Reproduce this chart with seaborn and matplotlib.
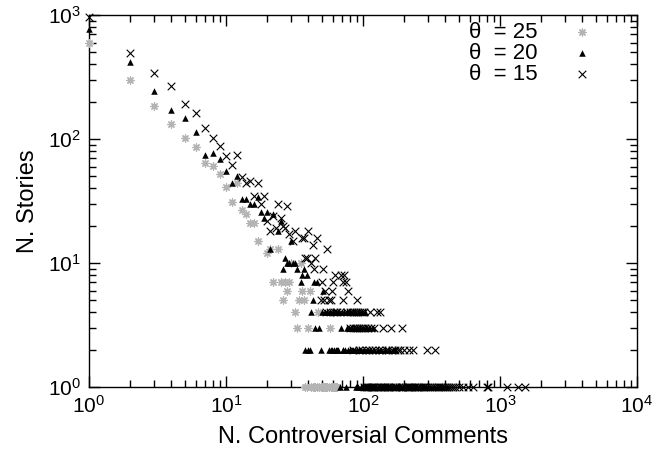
import numpy as np
import pandas as pd
import seaborn as sns
import matplotlib
matplotlib.use('Agg')
import matplotlib.pyplot as plt
from matplotlib.ticker import LogLocator, NullFormatter

# theta = 25 (grey asterisks): head of the distribution, then x values per count row
head25_x = [1, 2, 3, 4, 5, 6, 7, 8, 9, 10, 11, 12, 13, 14, 15, 16, 17, 20, 21, 22, 24, 25, 26,
            27, 28, 29, 30, 34, 35, 36, 37, 41]
head25_y = [600, 300, 185, 131, 102, 86, 64, 61, 52, 41, 31, 44, 27, 25, 21, 21, 15, 12, 13, 7, 13, 7, 5,
            7, 6, 7, 10, 5, 10, 6, 5, 6]
rows25 = {4: [32, 47],
          3: [33, 40, 57],
          1: [38, 39, 42, 43, 44, 45, 46, 48, 49, 50, 51, 52, 53, 54, 55, 56, 58, 59, 60, 61, 62, 63, 64, 65]}

# theta = 20 (black triangles)
head20_x = [1, 2, 3, 4, 5, 6, 7, 8, 9, 10, 11, 12, 13, 14, 15, 16, 17, 18, 19, 20, 21, 22, 24, 25,
            26, 27, 28, 29, 30, 31, 32, 33, 35, 36, 37, 39, 44, 46]
head20_y = [770, 417, 244, 171, 147, 113, 74, 77, 69, 55, 44, 50, 33, 33, 30, 30, 34, 26, 23, 26, 13, 25, 18, 22,
            9, 11, 10, 10, 15, 10, 10, 9, 7, 8, 9, 8, 7, 7]
rows20 = {6: [51],
          5: [43],
          4: [42, 50, 53, 55, 57, 60, 62, 64, 67, 70, 73, 76, 80, 84, 88, 93, 98, 103],
          3: [45, 48, 69, 77, 79, 82, 86, 90, 95, 100, 105, 110, 118],
          2: [38, 40, 41, 49, 56, 58, 59, 61, 63, 65, 66, 71, 72, 74, 78, 81, 83, 85, 87, 91, 94, 97,
              101, 107, 113, 120, 128, 136, 145, 155, 165, 171],
          1: [68, 75, 89, 92, 96, 99, 102, 104, 106, 108, 111, 114, 116, 119, 122, 125, 130, 133, 139,
              142, 148, 152, 158, 162, 168, 175, 182, 190, 198, 206, 215, 225, 236, 248, 260, 275, 290,
              310, 330, 355, 380, 410]}

# theta = 15 (black crosses)
head15_x = [1, 2, 3, 4, 5, 6, 7, 8, 9, 10, 11, 12, 13, 14, 15, 16, 17, 18, 19, 20, 21, 22, 23, 24,
            25, 26, 27, 28, 29, 31, 32, 36, 37, 38, 39, 40, 42, 43, 44, 45, 46, 51, 55]
head15_y = [960, 490, 340, 266, 192, 162, 122, 102, 88, 73, 62, 74, 49, 44, 46, 35, 44, 30, 35, 22, 18, 24, 19, 30,
            23, 20, 19, 29, 17, 15, 18, 16, 16, 11, 11, 18, 10, 14, 9, 11, 16, 9, 13]
rows15 = {8: [62, 69, 73],
          7: [50, 60, 71, 75],
          6: [53, 59, 78],
          5: [49, 52, 56, 58, 72, 90],
          4: [54, 57, 61, 63, 65, 68, 76, 80, 83, 86, 89, 92, 95, 98, 101, 112, 127, 133],
          3: [81, 84, 87, 91, 94, 97, 100, 104, 108, 115, 120, 140, 160, 193],
          2: [85, 93, 99, 106, 110, 117, 123, 130, 138, 146, 153, 162, 170, 180, 186, 200, 215, 232, 293, 336],
          1: [102, 105, 107, 109, 111, 114, 116, 118, 121, 125, 128, 132, 136, 139, 142, 145, 149, 152,
              156, 161, 166, 171, 175, 184, 188, 192, 197, 204, 208, 212, 217, 222, 228, 234, 240, 246,
              252, 258, 265, 272, 280, 290, 300, 309, 318, 328, 340, 350, 360, 372, 385, 397, 410, 425,
              440, 455, 470, 505, 540, 580, 636, 800, 815, 1120, 1350, 1520]}

labels = ['\u03b8  = 25', '\u03b8  = 20', '\u03b8  = 15']


def build(head_x, head_y, rows):
    xs = list(head_x)
    ys = list(head_y)
    for count, vals in rows.items():
        xs += vals
        ys += [count] * len(vals)
    return pd.DataFrame({'comments': xs, 'stories': ys})


df25 = build(head25_x, head25_y, rows25)
df20 = build(head20_x, head20_y, rows20)
df15 = build(head15_x, head15_y, rows15)

sns.set_style('ticks')
plt.rcParams['font.family'] = ['Liberation Sans', 'DejaVu Sans']
plt.rcParams['mathtext.fontset'] = 'custom'
plt.rcParams['mathtext.rm'] = 'Liberation Sans'
plt.rcParams['mathtext.it'] = 'Liberation Sans:italic'
plt.rcParams['text.color'] = 'black'
plt.rcParams['axes.labelcolor'] = 'black'
plt.rcParams['axes.edgecolor'] = 'black'

fig = plt.figure(figsize=(6.55, 4.59), dpi=100)
ax = fig.add_axes([89 / 655, 1 - 387 / 459, (637 - 89) / 655, (387 - 15) / 459])

sns.scatterplot(data=df25, x='comments', y='stories', marker=(8, 2, 0), color='#b4b4b4',
                s=28, linewidth=0.9, label=labels[0], ax=ax, clip_on=False, zorder=3)
sns.scatterplot(data=df20, x='comments', y='stories', marker='^', color='black',
                s=22, linewidth=0, label=labels[1], ax=ax, clip_on=False, zorder=3)
sns.scatterplot(data=df15, x='comments', y='stories', marker='x', color='black',
                s=30, linewidth=0.8, label=labels[2], ax=ax, clip_on=False, zorder=3)

ax.set_xscale('log')
ax.set_yscale('log')
ax.set_xlim(1, 1e4)
ax.set_ylim(1, 1e3)
for axis in (ax.xaxis, ax.yaxis):
    axis.set_minor_locator(LogLocator(base=10.0, subs=(2, 3, 4, 5, 6, 7, 8, 9), numticks=20))
    axis.set_minor_formatter(NullFormatter())
ax.set_xlabel('N. Controversial Comments', fontsize=17, labelpad=6)
ax.set_ylabel('N. Stories', fontsize=17, labelpad=6)
ax.tick_params(which='major', direction='in', length=8, width=1.0, pad=6, labelsize=15,
               color='black', labelcolor='black', top=True, right=True)
ax.tick_params(which='minor', direction='in', length=5, width=1.0, color='black',
               top=True, right=True)
for sp in ax.spines.values():
    sp.set_linewidth(1.0)

ax.legend(loc='upper right', bbox_to_anchor=(0.956, 1.005), borderaxespad=0, frameon=False,
          markerfirst=False, fontsize=16, handlelength=2.0, handletextpad=1.0, labelspacing=0.0)

plt.savefig('out.png', dpi=100)
